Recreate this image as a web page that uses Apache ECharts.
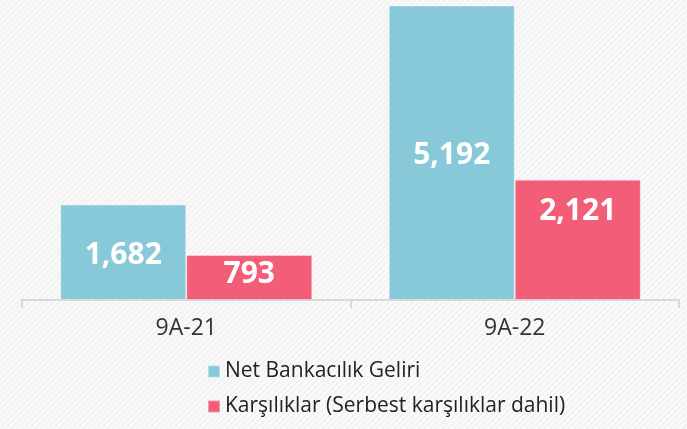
<!DOCTYPE html>
<html>
<head>
<meta charset="utf-8">
<script src="https://cdn.jsdelivr.net/npm/echarts@6/dist/echarts.min.js"></script>
<style>
html,body{margin:0;padding:0;}
#c{width:687px;height:429px;background:repeating-linear-gradient(135deg,#f3f3f3 0px,#f3f3f3 2.4px,#fbfbfb 2.4px,#fbfbfb 4.24px);}
</style>
</head>
<body>
<div id="c"></div>
<script>
const categories = ['9A-21', '9A-22'];
const seriesNames = ['Net Bankacılık Geliri', 'Karşılıklar (Serbest karşılıklar dahil)'];
const netBankingIncome = [1682, 5192];
const provisions = [793, 2121];

const colors = ['#88c9d9', '#f25e78'];
const labelOffsets = [[[0, 3], [0, 3]], [[0, -3], [0, -28]]];

function fmt(v) { return v.toLocaleString('en-US'); }

function buildSeries(name, values, idx) {
  return {
    name: name,
    type: 'bar',
    barWidth: 126,
    barGap: '0%',
    itemStyle: { color: colors[idx], borderColor: 'rgba(255,255,255,0.35)', borderWidth: 1 },
    label: {
      show: true,
      position: 'inside',
      color: '#ffffff',
      fontFamily: 'Open Sans',
      fontWeight: 'bold',
      fontSize: 30,
      formatter: p => fmt(p.value)
    },
    data: values.map((v, i) => ({ value: v, label: { offset: labelOffsets[idx][i] } }))
  };
}

const chart = echarts.init(document.getElementById('c'), null, { renderer: 'canvas' });
chart.setOption({
  backgroundColor: 'transparent',
  animation: false,
  grid: { left: 22, right: 8, top: 5, bottom: 129, containLabel: false },
  xAxis: {
    type: 'category',
    data: categories,
    axisLine: { show: true, lineStyle: { color: '#d9d9d9', width: 2 } },
    axisTick: { show: true, alignWithLabel: false, length: 8, lineStyle: { color: '#d9d9d9', width: 2 } },
    axisLabel: { color: '#333333', fontFamily: 'Open Sans', fontSize: 23, margin: 17 }
  },
  yAxis: {
    type: 'value',
    min: 0,
    max: 5200,
    show: false,
    splitLine: { show: false }
  },
  legend: {
    orient: 'vertical',
    left: 202,
    top: 356,
    icon: 'rect',
    itemWidth: 12,
    itemHeight: 12,
    itemGap: 14,
    textStyle: { color: '#222222', fontFamily: 'Open Sans', fontSize: 21 },
    data: seriesNames
  },
  series: [
    buildSeries(seriesNames[0], netBankingIncome, 0),
    buildSeries(seriesNames[1], provisions, 1)
  ]
});
</script>
</body>
</html>
